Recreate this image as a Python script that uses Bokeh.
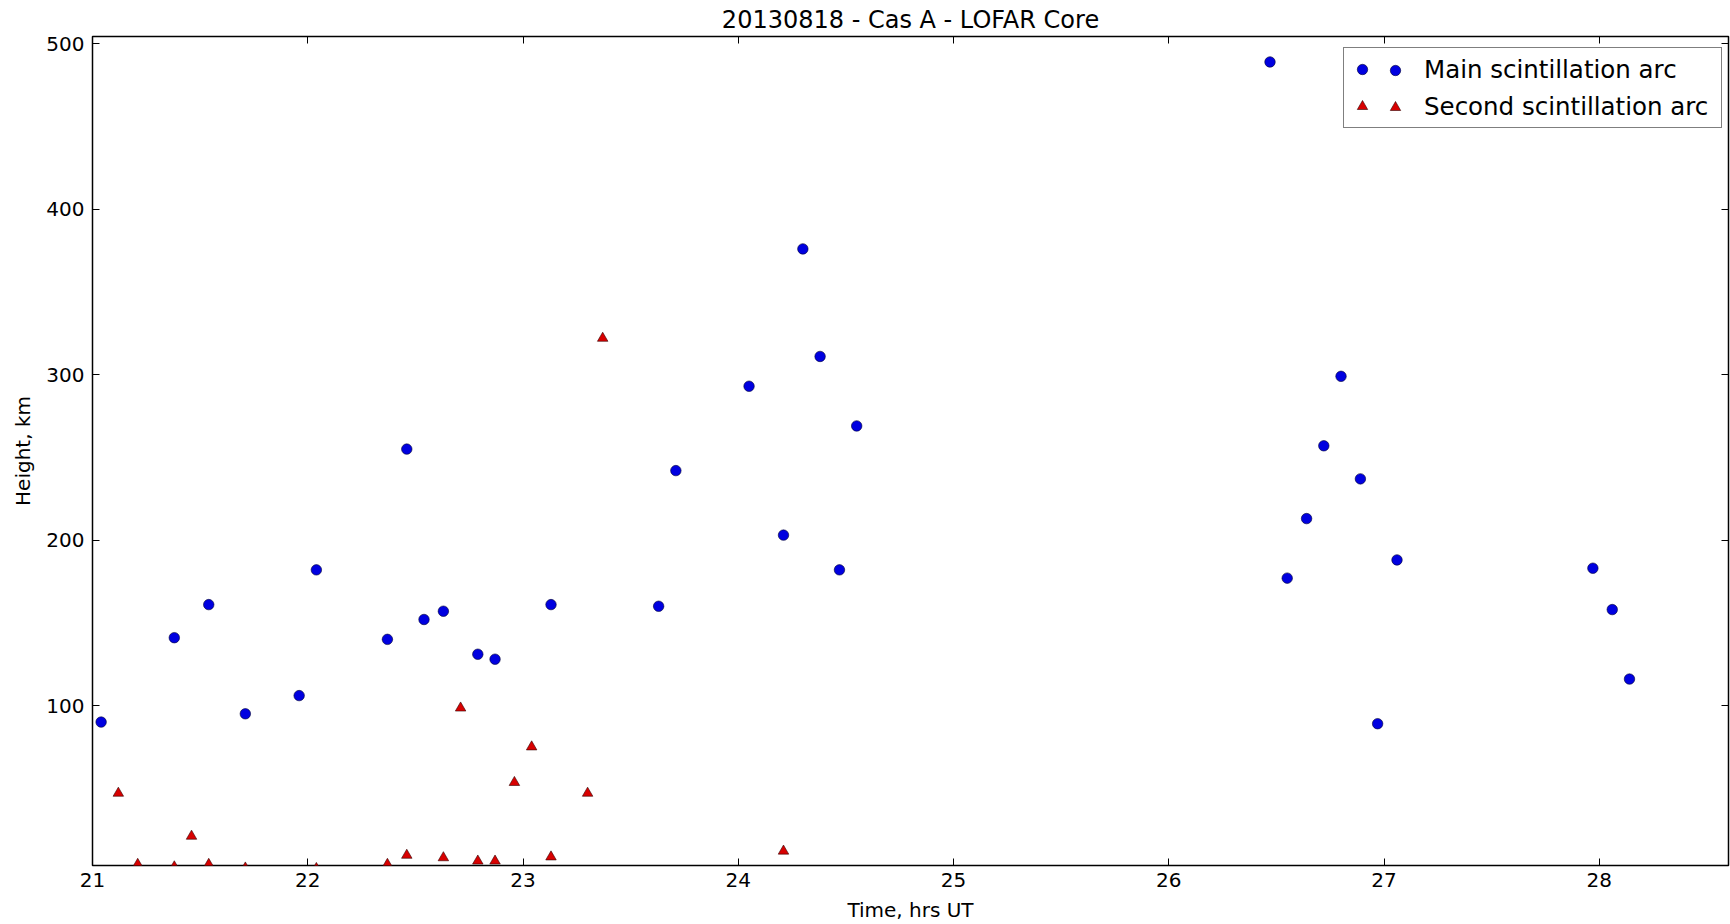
from bokeh.plotting import figure
from bokeh.models import (Range1d, FixedTicker, LinearAxis, Legend, LegendItem,
                          CustomLabelingPolicy)
from bokeh.embed import file_html
from bokeh.resources import INLINE

# Observation times (hours UT) and derived heights (km)
main_time = [21.04, 21.38, 21.54, 21.71, 21.96, 22.04, 22.37, 22.46, 22.54, 22.63,
             22.79, 22.87, 23.13, 23.63, 23.71, 24.05, 24.21, 24.30, 24.38, 24.47,
             24.55, 26.47, 26.55, 26.64, 26.72, 26.80, 26.89, 26.97, 27.06, 27.97,
             28.06, 28.14]
main_height = [90, 141, 161, 95, 106, 182, 140, 255, 152, 157,
               131, 128, 161, 160, 242, 293, 203, 376, 311, 182,
               269, 489, 177, 213, 257, 299, 237, 89, 188, 183,
               158, 116]

second_time = [21.12, 21.21, 21.38, 21.46, 21.54, 21.71, 22.04, 22.37, 22.46, 22.63,
               22.71, 22.79, 22.87, 22.96, 23.04, 23.13, 23.30, 23.37, 24.21]
second_height = [47, 4, 2.5, 21, 4, 1.8, 1.5, 4, 9.5, 8,
                 98.5, 6, 6, 53.5, 75, 8.5, 47, 322, 12]

x_ticks = [21, 22, 23, 24, 25, 26, 27, 28]
y_ticks = [100, 200, 300, 400, 500]

FONT = "DejaVu Sans"

p = figure(width=1730, height=924, output_backend="svg", toolbar_location=None,
           x_range=Range1d(21, 28.6), y_range=Range1d(3.3, 504.4),
           min_border_left=92, min_border_right=2, min_border_top=36, min_border_bottom=59,
           title="20130818 - Cas A - LOFAR Core",
           x_axis_label="Time, hrs UT", y_axis_label="Height, km")

p.grid.visible = False
p.background_fill_color = "white"
p.border_fill_color = "white"
p.outline_line_color = "black"
p.outline_line_width = 1.5
p.outline_line_alpha = 1.0

p.title.text_font = FONT
p.title.text_font_size = "24px"
p.title.text_font_style = "normal"
p.title.text_color = "black"
p.title.align = "center"
p.title.standoff = 6

# tick-only axes on the top and right edges: no labels are kept
no_labels = CustomLabelingPolicy(code="""
for (let i = 0; i < indices.size; i++) indices.unset(i)
return indices
""")


def style_axis(ax, ticks, labelled=True):
    ax.ticker = FixedTicker(ticks=ticks)
    ax.major_tick_in = 7
    ax.major_tick_out = 0
    ax.major_tick_line_color = "black"
    ax.major_tick_line_width = 1
    ax.minor_tick_line_color = None
    ax.axis_line_color = None
    if labelled:
        ax.major_label_text_font = FONT
        ax.major_label_text_font_size = "20px"
        ax.major_label_text_color = "black"
        ax.axis_label_text_font = FONT
        ax.axis_label_text_font_size = "20px"
        ax.axis_label_text_font_style = "normal"
        ax.axis_label_text_color = "black"
    else:
        ax.major_label_text_font_size = "0px"
        ax.major_label_standoff = 0
        ax.major_label_policy = no_labels


style_axis(p.xaxis[0], x_ticks)
p.xaxis[0].major_label_standoff = 7
p.xaxis[0].axis_label_standoff = 8
style_axis(p.yaxis[0], y_ticks)
p.yaxis[0].major_label_standoff = 8
p.yaxis[0].axis_label_standoff = 8

top_axis = LinearAxis()
style_axis(top_axis, x_ticks, labelled=False)
p.add_layout(top_axis, "above")
right_axis = LinearAxis()
style_axis(right_axis, y_ticks, labelled=False)
p.add_layout(right_axis, "right")

r_main = p.scatter(main_time, main_height, marker="circle", size=10.5,
                   fill_color="#0000e0", line_color="#000033", line_width=0.6)
r_second = p.scatter(second_time, second_height, marker="triangle", size=10.5,
                     fill_color="#d80000", line_color="#330000", line_width=0.6)

# Framed legend carrying the first marker of each entry and the labels
legend_main = Legend(
    items=[LegendItem(label="Main scintillation arc", renderers=[r_main]),
           LegendItem(label="Second scintillation arc", renderers=[r_second])],
    location=(1251, 737), padding=5, spacing=5,
    glyph_width=26, glyph_height=32, label_height=32, label_width=292,
    label_standoff=49, label_text_font=FONT, label_text_font_size="24.5px",
    label_text_color="black", border_line_color="black", border_line_width=1.5,
    background_fill_color="white", background_fill_alpha=1.0, margin=0)
# Second marker of each entry, drawn beside the first one
legend_pair = Legend(
    items=[LegendItem(label="", renderers=[r_main]),
           LegendItem(label="", renderers=[r_second])],
    location=(1285, 737), padding=5, spacing=5,
    glyph_width=26, glyph_height=32, label_height=32, label_width=0,
    label_standoff=0, label_text_font=FONT, label_text_font_size="24.5px",
    border_line_alpha=0, background_fill_alpha=0, margin=0)
p.add_layout(legend_main, "center")
p.add_layout(legend_pair, "center")

open("out.html", "w").write(file_html(p, INLINE))
